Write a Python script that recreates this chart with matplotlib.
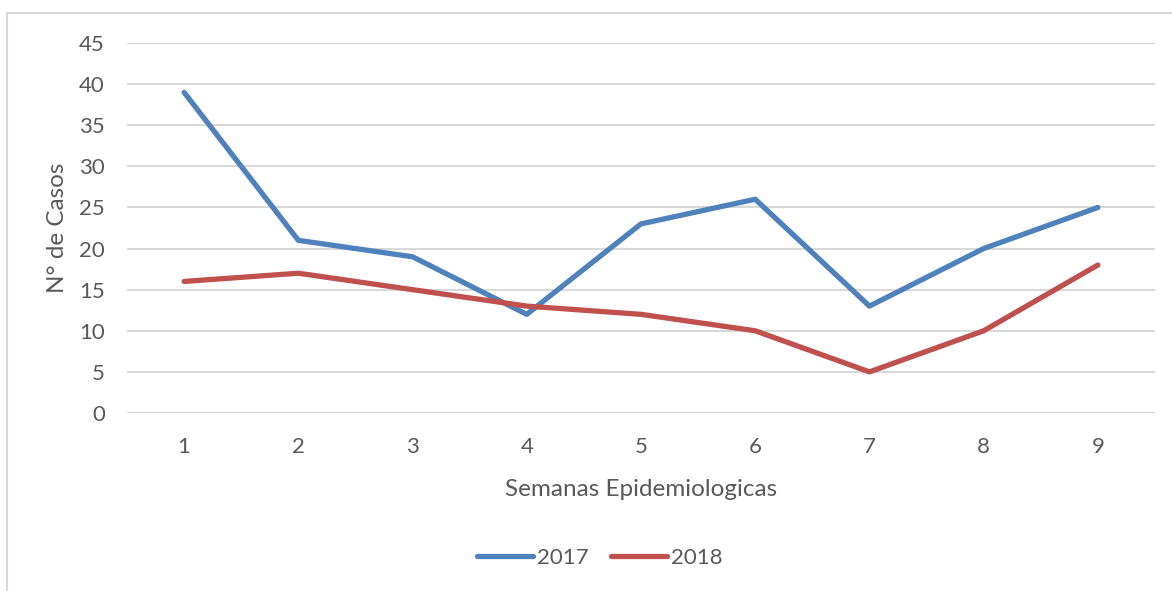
import matplotlib
matplotlib.use("Agg")
import matplotlib.pyplot as plt
from matplotlib.patches import Rectangle

weeks = [1, 2, 3, 4, 5, 6, 7, 8, 9]
cases_2017 = [39, 21, 19, 12, 23, 26, 13, 20, 25]
cases_2018 = [16, 17, 15, 13, 12, 10, 5, 10, 18]
series_labels = ["2017", "2018"]
yticks = [0, 5, 10, 15, 20, 25, 30, 35, 40, 45]

plt.rcParams['font.family'] = ['Lato', 'DejaVu Sans']
txt = '#595959'
W, H = 1172, 591
fig = plt.figure(figsize=(W/100, H/100), dpi=100)
fig.patches.append(Rectangle((7/W, -0.1), 1.2, (H-13)/H + 0.1, transform=fig.transFigure,
                             fill=False, edgecolor='#D9D9D9', linewidth=1.5))
ax = fig.add_axes([127/W, (H-413)/H, 1028/W, 370/H])
ax.plot(weeks, cases_2017, color='#4F81BD', lw=3.8, solid_capstyle='round', solid_joinstyle='round', label=series_labels[0])
ax.plot(weeks, cases_2018, color='#C0504D', lw=3.8, solid_capstyle='round', solid_joinstyle='round', label=series_labels[1])
ax.set_xlim(0.5, 9.5)
ax.set_ylim(0, 45)
ax.set_yticks(yticks)
ax.set_xticks(weeks)
ax.grid(axis='y', color='#D9D9D9', lw=1.5)
ax.set_axisbelow(True)
for s in ax.spines.values():
    s.set_visible(False)
ax.tick_params(length=0, labelsize=16, colors=txt)
ax.tick_params(axis='y', pad=16)
ax.tick_params(axis='x', pad=17)
ax.set_xlabel('Semanas Epidemiologicas', fontsize=17.5, color=txt, labelpad=16)
ax.set_ylabel('N° de Casos', fontsize=17.5, color=txt, labelpad=8)
leg = fig.legend(loc='center', bbox_to_anchor=(600/W, 1 - 558/H), ncol=2, frameon=False,
                 fontsize=16, handlelength=2.5, columnspacing=1.0, handletextpad=0.2)
for t in leg.get_texts():
    t.set_color(txt)
fig.savefig('out.png', dpi=100)
